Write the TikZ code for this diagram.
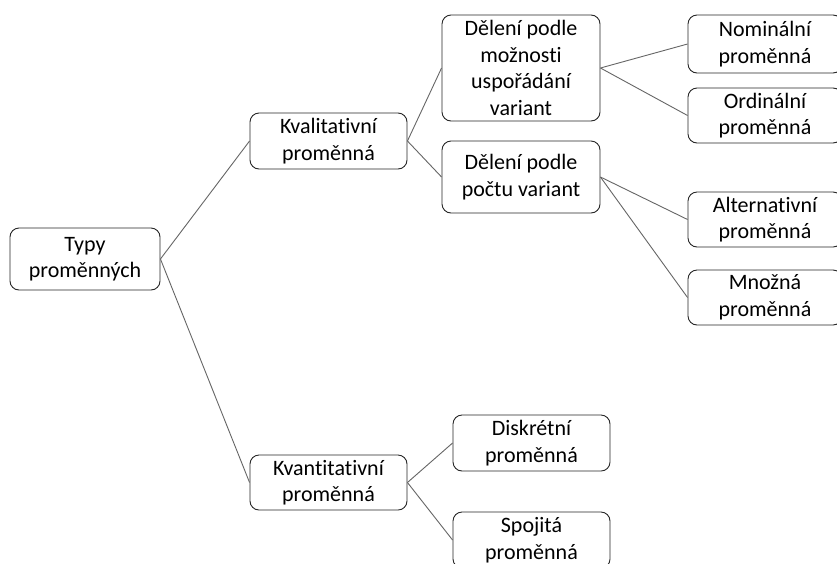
\documentclass[tikz,border=0pt]{standalone}
\usepackage{fontspec}
\setmainfont[RawFeature=-liga]{Carlito}
\begin{document}
\begin{tikzpicture}[x=1pt,y=-1pt,
  box/.style={draw=black!85,line width=0.9pt,rounded corners=9pt,fill=white,
    inner sep=0pt,align=center,font=\fontsize{22}{26.5}\selectfont,text=black},
  conn/.style={draw=black!60,line width=0.9pt}]
\clip (0,0) rectangle (837,563);
\fill[white] (0,0) rectangle (837,563);
\node[box,minimum width=150pt,minimum height=62pt] (typy) at (85,259) {Typy\\proměnných};
\node[box,minimum width=157pt,minimum height=56pt] (kval) at (328.5,141) {Kvalitativní\\proměnná};
\node[box,minimum width=158pt,minimum height=106pt] (delm) at (521,68) {Dělení podle\\možnosti\\uspořádání\\variant};
\node[box,minimum width=158pt,minimum height=72pt] (delp) at (521,177) {Dělení podle\\počtu variant};
\node[box,minimum width=154pt,minimum height=58pt] (nom) at (765,44) {Nominální\\proměnná};
\node[box,minimum width=154pt,minimum height=55pt] (ord) at (765,115.5) {Ordinální\\proměnná};
\node[box,minimum width=154pt,minimum height=55pt] (alt) at (765,219.5) {Alternativní\\proměnná};
\node[box,minimum width=154pt,minimum height=55pt] (mno) at (765,297.5) {Množná\\proměnná};
\node[box,minimum width=157pt,minimum height=55pt] (kvan) at (328.5,482.5) {Kvantitativní\\proměnná};
\node[box,minimum width=157pt,minimum height=56pt] (dis) at (531.5,443) {Diskrétní\\proměnná};
\node[box,minimum width=157pt,minimum height=56pt] (spo) at (531.5,540) {Spojitá\\proměnná};
\draw[conn] (typy.east) -- (kval.west);
\draw[conn] (typy.east) -- (kvan.west);
\draw[conn] (kval.east) -- (delm.west);
\draw[conn] (kval.east) -- (delp.west);
\draw[conn] (delm.east) -- (nom.west);
\draw[conn] (delm.east) -- (ord.west);
\draw[conn] (delp.east) -- (alt.west);
\draw[conn] (delp.east) -- (mno.west);
\draw[conn] (kvan.east) -- (dis.west);
\draw[conn] (kvan.east) -- (spo.west);
\end{tikzpicture}
\end{document}
